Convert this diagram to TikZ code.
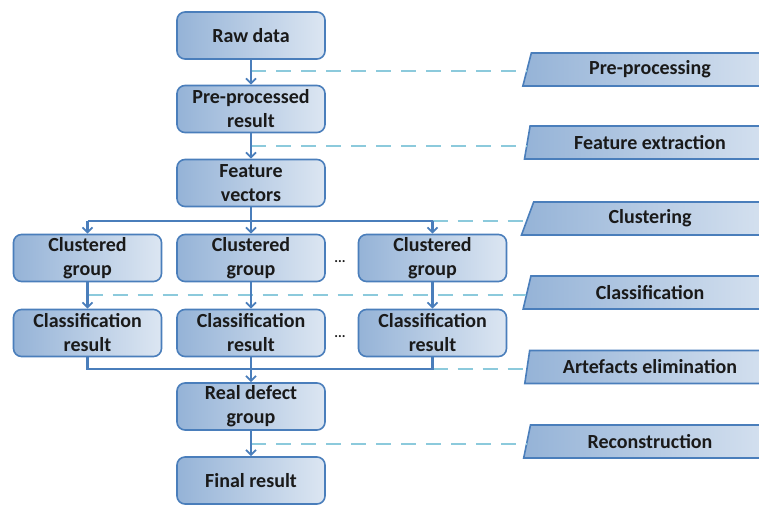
\documentclass[tikz,border=0pt]{standalone}
\usepackage{fontspec}
\setmainfont{Carlito}
\usetikzlibrary{arrows.meta,shapes.geometric}
\definecolor{boxborder}{HTML}{4A7EBB}
\definecolor{boxleft}{HTML}{95B3D7}
\definecolor{boxright}{HTML}{DCE6F2}
\definecolor{dashblue}{HTML}{8CCADC}
\definecolor{txt}{HTML}{1A1A1A}
\tikzset{
  stepbox/.style={draw=boxborder, line width=1.6pt, rounded corners=8pt,
    left color=boxleft, right color=boxright, minimum width=148pt, minimum height=47pt,
    align=center, inner sep=0pt, text=txt,
    font=\fontsize{20}{24}\selectfont\bfseries},
  phase/.style={trapezium, trapezium left angle=76, trapezium right angle=90,
    trapezium stretches=true, draw=boxborder, line width=1.6pt,
    left color=boxleft, right color=boxright!90!boxleft, minimum width=246pt, minimum height=33pt,
    inner sep=0pt, text=txt, font=\fontsize{20}{22}\selectfont\bfseries},
  flow/.style={draw=boxborder, line width=2.6pt},
  arr/.style={flow, -{Straight Barb[length=5pt,width=10pt,line width=1.8pt]}},
  dsh/.style={draw=dashblue, line width=2.8pt, dash pattern=on 15pt off 10pt},
  dots/.style={text=txt, font=\fontsize{14}{16}\selectfont\bfseries, inner sep=0pt}
}
\begin{document}
\begin{tikzpicture}[x=1pt,y=-1pt]
\useasboundingbox (0,0) rectangle (759,504);
% main column
\node[stepbox] (raw) at (251,35.5) {Raw data};
\node[stepbox] (pre) at (251,109) {Pre-processed\\result};
\node[stepbox] (feat) at (251,183) {Feature\\vectors};
\node[stepbox] (cg1) at (87.5,258) {Clustered\\group};
\node[stepbox] (cg2) at (251,258) {Clustered\\group};
\node[stepbox] (cg3) at (432.5,258) {Clustered\\group};
\node[stepbox] (cr1) at (87.5,333) {Classification\\result};
\node[stepbox] (cr2) at (251,333) {Classification\\result};
\node[stepbox] (cr3) at (432.5,333) {Classification\\result};
\node[stepbox] (real) at (251,406.5) {Real defect\\group};
\node[stepbox] (final) at (251,480.5) {Final result};
\node[dots] (d1) at (340,262) {...};
\node[dots] (d2) at (340,337) {...};
% phases
\node[phase] (pp) at (650,69.5) {Pre-processing};
\node[phase] (fe) at (650,142.5) {Feature extraction};
\node[phase] (cl) at (650,218.5) {Clustering};
\node[phase] (cf) at (650,292.5) {Classification};
\node[phase] (ae) at (650,367) {Artefacts elimination};
\node[phase] (rc) at (650,441.5) {Reconstruction};
% coordinates
\coordinate (split) at (251,221);
\coordinate (sl) at (87.5,221);
\coordinate (sr) at (432.5,221);
\coordinate (ml) at (87.5,369);
\coordinate (mc) at (251,369);
\coordinate (mr) at (432.5,369);
\coordinate (dpp) at (251,71);
\coordinate (dfe) at (251,146);
\coordinate (dcf) at (87.5,295);
\coordinate (drc) at (251,444);
% dashed phase links
\draw[dsh] (dpp) -- (dpp -| pp.west);
\draw[dsh] (dfe) -- (dfe -| fe.west);
\draw[dsh] (sr) -- (sr -| cl.west);
\draw[dsh] (dcf) -- (dcf -| cf.west);
\draw[dsh] (mr) -- (mr -| ae.west);
\draw[dsh] (drc) -- (drc -| rc.west);
% flow
\draw[arr] (raw) -- (pre);
\draw[arr] (pre) -- (feat);
\draw[flow] (feat.south) -- (split);
\draw[flow] (sl) -- (sr);
\draw[arr] (sl) -- (cg1);
\draw[arr] (split) -- (cg2);
\draw[arr] (sr) -- (cg3);
\draw[arr] (cg1) -- (cr1);
\draw[arr] (cg2) -- (cr2);
\draw[arr] (cg3) -- (cr3);
\draw[flow] (cr1.south) -- (ml) -- (mr) -- (cr3.south);
\draw[flow] (cr2.south) -- (mc);
\draw[arr] (mc) -- (real);
\draw[arr] (real) -- (final);
\end{tikzpicture}
\end{document}
